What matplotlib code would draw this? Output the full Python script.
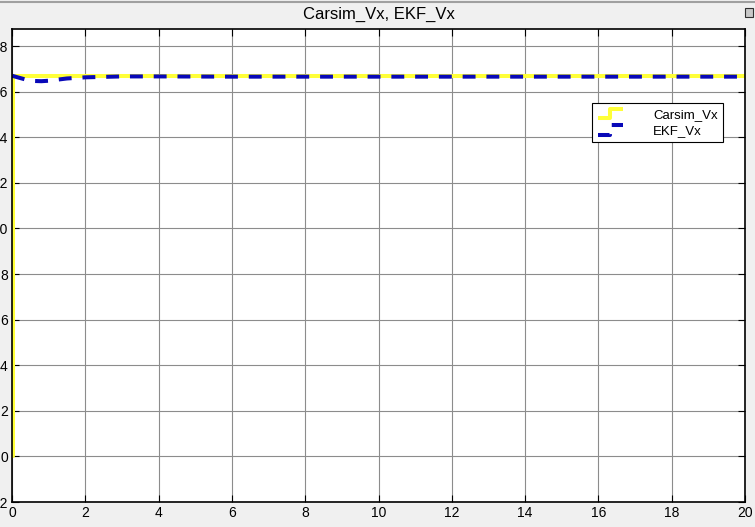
import numpy as np
import matplotlib.pyplot as plt
from matplotlib.legend_handler import HandlerLine2D
from matplotlib.lines import Line2D
from matplotlib.patches import Rectangle

plt.rcParams['font.family'] = ['Liberation Sans', 'DejaVu Sans']

# data
t_carsim = [0.0, 0.04, 0.04, 20.0]
vx_carsim = [0.0, 0.0, 16.67, 16.67]

t_ekf = [0.0, 0.2, 0.4, 0.6, 0.8, 1.0, 1.2, 1.5, 2.0, 2.5, 3.0, 4.0, 6.0, 10.0, 14.0, 20.0]
vx_ekf = [16.7, 16.61, 16.52, 16.47, 16.46, 16.48, 16.52, 16.58, 16.63, 16.65, 16.67, 16.67,
          16.66, 16.66, 16.66, 16.66]

xticks = np.arange(0, 21, 2)
yticks = np.arange(-2, 19, 2)


class StepHandler(HandlerLine2D):
    # simulink-style legend icon: a little step instead of a straight line
    def create_artists(self, legend, orig_handle, xdescent, ydescent, width, height, fontsize, trans):
        x0, x1 = -xdescent, -xdescent + width
        xm = (x0 + x1) / 2
        lo, hi = -ydescent - 0.05 * height, -ydescent + 1.0 * height
        ln = Line2D([x0, xm, xm, x1], [lo, lo, hi, hi])
        self.update_prop(ln, orig_handle, legend)
        ln.set_transform(trans)
        return [ln]


fig = plt.figure(figsize=(7.55, 5.27), dpi=100, facecolor='#f0f0f0')
ax = fig.add_axes([12 / 755, 1 - 502 / 527, 733 / 755, 473 / 527])
ax.set_facecolor('white')

l1, = ax.plot(t_carsim, vx_carsim, color='#ffff38', lw=2.9, label='Carsim_Vx', solid_capstyle='butt')
l2, = ax.plot(t_ekf, vx_ekf, color='#0808b8', lw=2.9, label='EKF_Vx', dashes=(3.2, 2.7))

ax.set_xlim(0, 20)
ax.set_ylim(-2, 18.75)
ax.set_xticks(xticks)
ax.set_yticks(yticks)
ax.set_yticklabels([str(v) for v in yticks])
ax.grid(True, color='#8c8c8c', lw=0.8)
ax.tick_params(direction='in', length=5, labelsize=10, top=True, right=True, pad=3)
for s in ax.spines.values():
    s.set_linewidth(1.2)

ax.set_title('Carsim_Vx, EKF_Vx', fontsize=12, pad=7)

leg = ax.legend(handler_map={l1: StepHandler(), l2: StepHandler()},
                loc='upper left', bbox_to_anchor=(0.7826, 0.8565), fontsize=9.5,
                fancybox=False, framealpha=1, edgecolor='black', borderpad=0.4,
                handlelength=1.9, labelspacing=0.3, handletextpad=2.3)
leg.get_frame().set_linewidth(0.8)

# window chrome
fig.add_artist(Line2D([0, 1], [1 - 2 / 527, 1 - 2 / 527], color='#a0a0a0', lw=1.5, transform=fig.transFigure))
fig.add_artist(Rectangle((745 / 755, 1 - 17 / 527), 8 / 755, 9 / 527, transform=fig.transFigure,
                         facecolor='#c8c8c8', edgecolor='#303030', lw=0.8))

fig.savefig('out.png', dpi=100, facecolor=fig.get_facecolor())
